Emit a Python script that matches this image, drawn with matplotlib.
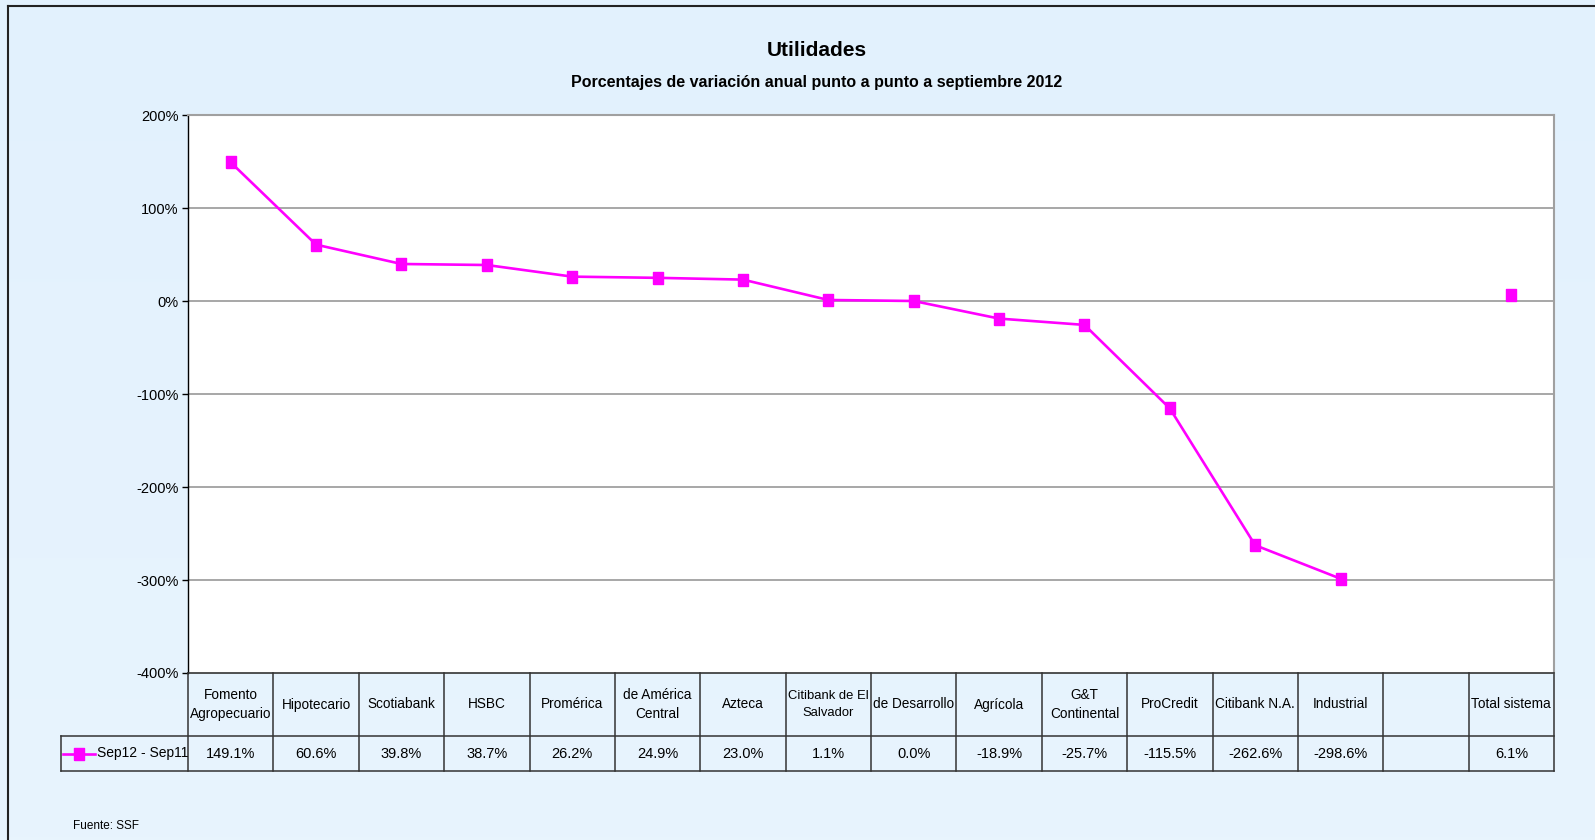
import numpy as np, matplotlib
matplotlib.use("Agg"); import matplotlib.pyplot as plt
from matplotlib.lines import Line2D
from matplotlib.path import Path
from matplotlib.colors import LinearSegmentedColormap
import matplotlib.transforms as mtrans

plt.rcParams['font.family'] = ['Liberation Sans Narrow', 'Liberation Sans', 'DejaVu Sans']

# data
bancos = ["Fomento\nAgropecuario", "Hipotecario", "Scotiabank", "HSBC", "Promérica",
          "de América\nCentral", "Azteca", "Citibank de El\nSalvador", "de Desarrollo",
          "Agrícola", "G&T\nContinental", "ProCredit", "Citibank N.A.", "Industrial",
          "", "Total sistema"]
variacion = [149.1, 60.6, 39.8, 38.7, 26.2, 24.9, 23.0, 1.1, 0.0, -18.9, -25.7,
             -115.5, -262.6, -298.6, np.nan, 6.1]
etiquetas = ["149.1%", "60.6%", "39.8%", "38.7%", "26.2%", "24.9%", "23.0%", "1.1%", "0.0%",
             "-18.9%", "-25.7%", "-115.5%", "-262.6%", "-298.6%", "", "6.1%"]
serie = "Sep12 - Sep11"
yticks = [200, 100, 0, -100, -200, -300, -400]

W, H = 1595, 840
fig = plt.figure(figsize=(W/100, H/100), dpi=100)

# light blue background gradient
bg = fig.add_axes([0, 0, 1, 1], zorder=-10)
grad = np.linspace(0, 1, 256).reshape(-1, 1)
cm = LinearSegmentedColormap.from_list("bgc", ["#e2f1fd", "#e8f4fd"])
bg.imshow(grad, aspect='auto', cmap=cm, extent=[0, 1, 0, 1])
bg.axis('off')

# outer frame (top and left visible)
fig.add_artist(Line2D([8/W, 1], [1-6/H, 1-6/H], color='#222222', lw=1.5))
fig.add_artist(Line2D([8/W, 8/W], [1-6/H, 0], color='#222222', lw=1.5))

L, R, T, B = 188, 1554, 115, 673
ax = fig.add_axes([L/W, 1-B/H, (R-L)/W, (B-T)/H])
ax.set_facecolor('white')
n = len(bancos)
x = np.arange(n)
ax.set_xlim(-0.5, n-0.5); ax.set_ylim(-400, 200)
ax.set_yticks(yticks)
ax.set_yticklabels([f"{v}%" for v in yticks], fontsize=10.5)
ax.set_xticks([])
ax.tick_params(axis='y', length=4, width=1, color='black', pad=3)
for v in yticks[1:-1]:
    ax.axhline(v, color='#a0a0a0', lw=1.3, zorder=1)
for s in ['top', 'right']:
    ax.spines[s].set_color('#a0a0a0'); ax.spines[s].set_linewidth(1.5)
ax.spines['left'].set_color('black'); ax.spines['left'].set_linewidth(1)
ax.spines['bottom'].set_color('#333333'); ax.spines['bottom'].set_linewidth(1.2)

rect = Path([(-0.75, -1), (0.75, -1), (0.75, 1), (-0.75, 1), (-0.75, -1)])
mag = '#ff00ff'
ax.plot(x, variacion, '-', color=mag, lw=1.9, marker=rect, ms=9, mec=mag, mfc=mag, zorder=5)

# data table under the plot
tr = mtrans.blended_transform_factory(ax.transData, ax.transAxes)
h1 = -(736-673)/(B-T); h2 = -(771-673)/(B-T)
cx = lambda px: (px-L)/((R-L)/n) - 0.5
xleg = cx(61)
kw = dict(color='#333333', lw=1.1, transform=tr, clip_on=False)
for b in np.arange(n+1) - 0.5:
    ax.add_line(Line2D([b, b], [0, h2], **kw))
ax.add_line(Line2D([xleg, n-0.5], [h1, h1], **kw))
ax.add_line(Line2D([xleg, n-0.5], [h2, h2], **kw))
ax.add_line(Line2D([xleg, xleg], [h1, h2], **kw))
for i in range(n):
    ax.text(i, h1/2, bancos[i], transform=tr, ha='center', va='center',
            fontsize=9.4 if i == 7 else 9.8, linespacing=1.5)
    ax.text(i, (h1+h2)/2, etiquetas[i], transform=tr, ha='center', va='center', fontsize=10.5)
# legend key in the table
ym = (h1+h2)/2
ax.add_line(Line2D([cx(63), cx(95)], [ym, ym], color=mag, lw=1.9, transform=tr, clip_on=False))
ax.add_line(Line2D([cx(79)], [ym], color=mag, marker=rect, ms=9, mfc=mag, mec=mag,
                   transform=tr, clip_on=False))
ax.text(cx(97), ym, serie, transform=tr, ha='left', va='center', fontsize=10)

fig.text(817/W, 1-51/H, "Utilidades", ha='center', va='center', fontsize=15, fontweight='bold')
fig.text(817/W, 1-82/H, "Porcentajes de variación anual punto a punto a septiembre 2012",
         ha='center', va='center', fontsize=11.5, fontweight='bold')
fig.text(73/W, 1-826/H, "Fuente: SSF", ha='left', va='center', fontsize=8.5)

fig.savefig("out.png", dpi=100)
